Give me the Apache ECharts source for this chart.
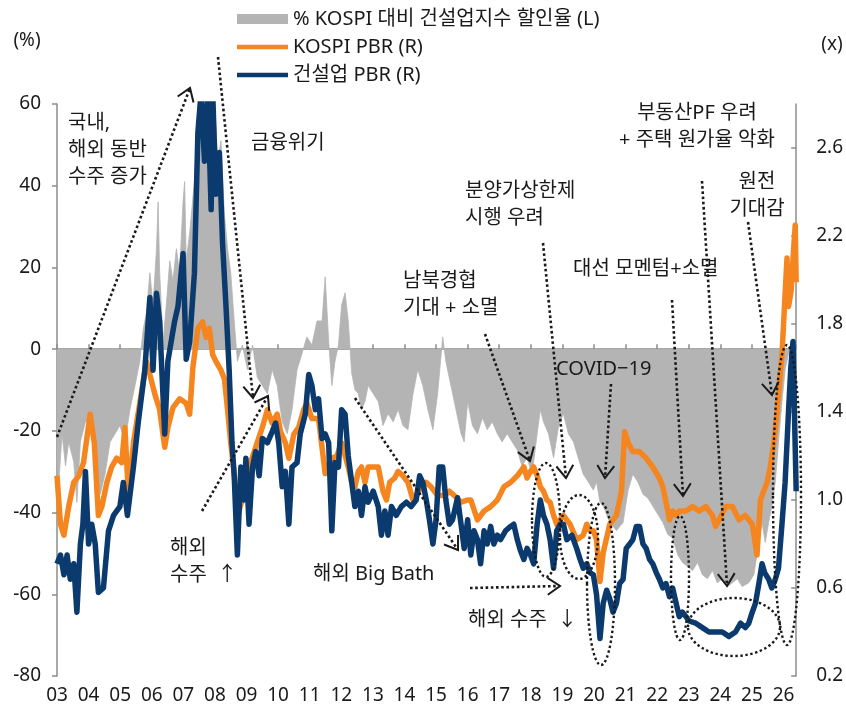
<!DOCTYPE html>
<html>
<head>
<meta charset="utf-8">
<script src="https://cdn.jsdelivr.net/npm/echarts@6/dist/echarts.min.js"></script>
<style>
  html, body { margin: 0; padding: 0; background: #fff; }
  #main { width: 846px; height: 712px; }
</style>
</head>
<body>
<div id="main"></div>
<script>
// % KOSPI 대비 건설업지수 할인율 (L)
const discountPct = [
  [2003.00, -27.6], [2003.06, -32.5], [2003.16, -20.7], [2003.27, -28.6], [2003.37, -22.7],
  [2003.53, -27.6], [2003.63, -37.5], [2003.74, -22.7], [2003.90, -17.8], [2004.05, -17.8],
  [2004.21, -27.6], [2004.37, -35.5], [2004.52, -30.6], [2004.68, -22.7], [2004.84, -20.7],
  [2004.99, -18.7], [2005.15, -22.7], [2005.31, -14.8], [2005.47, -8.9], [2005.62, -3.0],
  [2005.73, 4.9], [2005.83, 8.8], [2005.94, 18.7], [2006.04, 10.8], [2006.15, 24.6],
  [2006.20, 36.0], [2006.25, 18.7], [2006.36, 1.9], [2006.46, 10.8], [2006.57, 21.6],
  [2006.67, 16.7], [2006.78, 24.6], [2006.88, 18.7], [2006.99, 36.0], [2007.04, 41.0],
  [2007.09, 21.6], [2007.20, 28.5], [2007.35, 41.0], [2007.46, 56.0], [2007.56, 62.0],
  [2007.67, 51.0], [2007.77, 62.0], [2007.88, 46.0], [2007.98, 62.0], [2008.09, 46.0],
  [2008.19, 51.0], [2008.30, 33.0], [2008.40, 24.6], [2008.50, 18.7], [2008.61, 6.9],
  [2008.71, -3.0], [2008.87, 1.0], [2009.03, -5.0], [2009.19, 1.0], [2009.34, -6.9],
  [2009.50, -8.9], [2009.66, -10.9], [2009.81, -5.0], [2009.97, -8.9], [2010.13, -17.8],
  [2010.29, -20.7], [2010.44, -14.8], [2010.60, -5.0], [2010.76, -1.0], [2010.91, 3.0],
  [2011.07, 1.0], [2011.23, 6.9], [2011.39, 6.9], [2011.49, 17.7], [2011.60, 2.0],
  [2011.70, -8.9], [2011.80, -3.0], [2011.91, 1.0], [2012.01, 10.8], [2012.12, 13.8],
  [2012.22, 6.9], [2012.33, -5.9], [2012.43, -9.9], [2012.54, -10.9], [2012.64, -14.8],
  [2012.75, -12.8], [2012.85, -8.9], [2013.01, -10.9], [2013.17, -12.8], [2013.32, -18.7],
  [2013.48, -15.8], [2013.64, -17.8], [2013.80, -14.8], [2013.95, -18.7], [2014.11, -19.7],
  [2014.27, -10.9], [2014.42, -5.0], [2014.58, -8.9], [2014.74, -14.8], [2014.90, -19.7],
  [2015.05, -10.9], [2015.21, 3.0], [2015.31, -3.0], [2015.47, -8.9], [2015.63, -14.8],
  [2015.79, -20.7], [2015.89, -22.7], [2016.00, -12.8], [2016.15, -18.7], [2016.31, -20.7],
  [2016.47, -16.8], [2016.62, -19.7], [2016.78, -17.8], [2016.94, -20.7], [2017.09, -22.7],
  [2017.25, -20.7], [2017.41, -22.7], [2017.57, -24.7], [2017.72, -28.6], [2017.88, -26.6],
  [2018.04, -30.6], [2018.20, -20.7], [2018.30, -14.8], [2018.40, -17.8], [2018.56, -20.7],
  [2018.72, -26.6], [2018.88, -18.7], [2019.03, -15.8], [2019.19, -20.7], [2019.35, -22.7],
  [2019.50, -26.6], [2019.66, -30.6], [2019.82, -32.5], [2019.98, -34.5], [2020.08, -32.5],
  [2020.19, -37.5], [2020.29, -38.4], [2020.50, -42.4], [2020.71, -44.4], [2020.92, -42.4],
  [2021.08, -34.5], [2021.23, -30.6], [2021.39, -32.5], [2021.55, -35.5], [2021.71, -36.5],
  [2021.86, -38.4], [2022.02, -40.4], [2022.18, -42.4], [2022.33, -45.3], [2022.49, -46.3],
  [2022.65, -50.3], [2022.80, -52.2], [2022.96, -53.2], [2023.12, -54.2], [2023.28, -52.2],
  [2023.43, -55.2], [2023.59, -56.2], [2023.75, -54.2], [2023.90, -57.2], [2024.06, -56.2],
  [2024.22, -58.1], [2024.38, -57.2], [2024.54, -56.2], [2024.69, -58.1], [2024.90, -57.2],
  [2025.06, -55.2], [2025.22, -47.3], [2025.32, -42.4], [2025.42, -47.3], [2025.53, -42.4],
  [2025.63, -38.4], [2025.74, -32.5], [2025.84, -22.7], [2025.95, -12.8], [2026.05, -5.0],
  [2026.16, -1.0], [2026.24, -3.0], [2026.32, -12.8], [2026.40, -22.7]
];

// KOSPI PBR (R)
const kospiPbr = [
  [2003.00, 1.11], [2003.11, 0.89], [2003.22, 0.84], [2003.37, 0.97], [2003.53, 1.08],
  [2003.69, 1.11], [2003.84, 1.17], [2004.05, 1.39], [2004.18, 1.26], [2004.31, 0.93],
  [2004.42, 0.97], [2004.58, 1.08], [2004.73, 1.15], [2004.89, 1.19], [2005.05, 1.17],
  [2005.15, 1.33], [2005.26, 1.02], [2005.42, 1.26], [2005.62, 1.44], [2005.83, 1.63],
  [2005.94, 1.57], [2006.10, 1.48], [2006.25, 1.41], [2006.41, 1.24], [2006.51, 1.33],
  [2006.67, 1.42], [2006.88, 1.46], [2007.09, 1.44], [2007.20, 1.39], [2007.30, 1.60],
  [2007.46, 1.78], [2007.61, 1.81], [2007.72, 1.74], [2007.82, 1.78], [2007.93, 1.66],
  [2008.03, 1.63], [2008.19, 1.59], [2008.30, 1.55], [2008.40, 1.41], [2008.50, 1.26],
  [2008.61, 1.12], [2008.71, 0.92], [2008.82, 0.98], [2008.92, 1.02], [2008.98, 1.10],
  [2009.13, 1.17], [2009.29, 1.24], [2009.50, 1.33], [2009.66, 1.41], [2009.81, 1.35],
  [2009.97, 1.39], [2010.08, 1.31], [2010.23, 1.26], [2010.34, 1.19], [2010.50, 1.30],
  [2010.65, 1.33], [2010.81, 1.41], [2010.91, 1.44], [2011.07, 1.37], [2011.28, 1.37],
  [2011.49, 1.12], [2011.70, 1.19], [2011.86, 1.20], [2012.01, 1.26], [2012.22, 1.15],
  [2012.33, 1.08], [2012.43, 1.06], [2012.54, 1.13], [2012.64, 1.15], [2012.75, 1.08],
  [2012.85, 1.15], [2013.01, 1.15], [2013.17, 1.15], [2013.32, 1.04], [2013.43, 1.00],
  [2013.53, 1.08], [2013.69, 1.10], [2013.80, 1.13], [2013.95, 1.11], [2014.11, 1.08],
  [2014.27, 1.00], [2014.37, 1.02], [2014.53, 1.06], [2014.69, 1.08], [2014.84, 1.06],
  [2015.05, 1.02], [2015.26, 1.02], [2015.42, 1.04], [2015.58, 1.02], [2015.79, 0.99],
  [2016.00, 1.00], [2016.10, 1.00], [2016.31, 0.91], [2016.52, 0.95], [2016.73, 0.97],
  [2016.94, 1.00], [2017.15, 1.06], [2017.36, 1.08], [2017.57, 1.11], [2017.78, 1.15],
  [2017.88, 1.10], [2017.99, 1.13], [2018.09, 1.15], [2018.20, 1.11], [2018.30, 1.06],
  [2018.40, 1.04], [2018.51, 1.00], [2018.61, 0.99], [2018.72, 0.93], [2018.82, 0.89],
  [2019.03, 0.93], [2019.24, 0.89], [2019.45, 0.82], [2019.66, 0.84], [2019.77, 0.89],
  [2019.87, 0.86], [2019.98, 0.86], [2020.08, 0.82], [2020.19, 0.63], [2020.29, 0.76],
  [2020.50, 0.89], [2020.71, 0.93], [2020.87, 1.04], [2020.97, 1.31], [2021.08, 1.26],
  [2021.23, 1.22], [2021.44, 1.22], [2021.65, 1.19], [2021.86, 1.15], [2022.07, 1.10],
  [2022.18, 1.06], [2022.28, 0.99], [2022.39, 0.91], [2022.49, 0.95], [2022.60, 0.93],
  [2022.70, 0.95], [2022.91, 0.95], [2023.12, 0.97], [2023.33, 0.95], [2023.54, 0.97],
  [2023.75, 0.93], [2023.85, 0.88], [2023.96, 0.91], [2024.17, 0.97], [2024.38, 0.97],
  [2024.59, 0.91], [2024.79, 0.93], [2025.01, 0.89], [2025.16, 0.75], [2025.27, 1.00],
  [2025.37, 1.04], [2025.48, 1.08], [2025.58, 1.15], [2025.69, 1.26], [2025.76, 1.35],
  [2025.84, 1.48], [2025.95, 1.66], [2026.03, 1.88], [2026.11, 2.10], [2026.16, 1.88],
  [2026.24, 1.95], [2026.32, 2.14], [2026.37, 2.25], [2026.40, 1.99]
];

// 건설업 PBR (R)
const constructionPbr = [
  [2003.00, 0.71], [2003.11, 0.75], [2003.22, 0.66], [2003.32, 0.75], [2003.42, 0.64],
  [2003.53, 0.71], [2003.63, 0.49], [2003.74, 0.80], [2003.82, 0.89], [2003.90, 1.13],
  [2004.00, 0.80], [2004.10, 0.89], [2004.21, 0.80], [2004.31, 0.58], [2004.47, 0.60],
  [2004.63, 0.86], [2004.79, 0.93], [2004.99, 0.97], [2005.10, 1.08], [2005.23, 0.93],
  [2005.42, 1.15], [2005.57, 1.35], [2005.78, 1.59], [2005.94, 1.92], [2006.04, 1.59],
  [2006.15, 1.94], [2006.25, 1.81], [2006.41, 1.30], [2006.51, 1.63], [2006.72, 1.81],
  [2006.83, 1.88], [2006.99, 2.12], [2007.09, 1.64], [2007.20, 1.72], [2007.35, 2.03],
  [2007.46, 2.67], [2007.56, 2.85], [2007.67, 2.54], [2007.77, 2.85], [2007.88, 2.32],
  [2007.93, 2.85], [2008.03, 2.39], [2008.14, 2.58], [2008.24, 2.17], [2008.35, 1.88],
  [2008.45, 1.59], [2008.54, 1.26], [2008.61, 1.11], [2008.71, 0.75], [2008.82, 1.15],
  [2008.92, 1.00], [2008.98, 1.19], [2009.08, 0.89], [2009.19, 1.15], [2009.29, 1.22],
  [2009.40, 1.11], [2009.50, 1.28], [2009.66, 1.26], [2009.81, 1.31], [2009.92, 1.35],
  [2010.02, 1.26], [2010.13, 1.06], [2010.23, 1.13], [2010.34, 0.89], [2010.44, 1.15],
  [2010.60, 1.17], [2010.70, 1.30], [2010.86, 1.39], [2010.97, 1.57], [2011.07, 1.52],
  [2011.18, 1.41], [2011.28, 1.46], [2011.39, 1.28], [2011.49, 1.30], [2011.60, 1.26],
  [2011.70, 0.86], [2011.80, 1.17], [2011.91, 1.15], [2012.01, 1.41], [2012.12, 1.39],
  [2012.22, 1.20], [2012.33, 1.08], [2012.43, 0.97], [2012.54, 1.04], [2012.64, 0.93],
  [2012.75, 1.06], [2012.85, 0.99], [2013.01, 1.04], [2013.17, 0.97], [2013.27, 0.84],
  [2013.38, 0.95], [2013.48, 0.84], [2013.59, 0.97], [2013.74, 0.93], [2013.90, 0.97],
  [2014.06, 0.99], [2014.21, 0.97], [2014.37, 1.00], [2014.48, 1.11], [2014.58, 1.08],
  [2014.69, 1.00], [2014.79, 0.91], [2014.90, 0.80], [2015.00, 0.91], [2015.10, 1.15],
  [2015.21, 1.15], [2015.31, 1.00], [2015.42, 0.89], [2015.52, 0.91], [2015.68, 1.01],
  [2015.79, 0.89], [2015.89, 0.78], [2016.00, 0.91], [2016.10, 0.75], [2016.20, 0.86],
  [2016.31, 0.82], [2016.41, 0.71], [2016.52, 0.86], [2016.62, 0.80], [2016.73, 0.88],
  [2016.83, 0.80], [2016.94, 0.84], [2017.04, 0.82], [2017.20, 0.86], [2017.36, 0.88],
  [2017.46, 0.89], [2017.57, 0.82], [2017.67, 0.77], [2017.78, 0.73], [2017.88, 0.78],
  [2017.99, 0.75], [2018.09, 0.71], [2018.20, 0.89], [2018.30, 1.00], [2018.40, 0.93],
  [2018.51, 0.89], [2018.61, 0.82], [2018.72, 0.69], [2018.82, 0.86], [2018.93, 0.89],
  [2019.03, 0.89], [2019.14, 0.82], [2019.30, 0.84], [2019.45, 0.78], [2019.56, 0.73],
  [2019.66, 0.69], [2019.77, 0.71], [2019.87, 0.67], [2019.98, 0.66], [2020.08, 0.57],
  [2020.19, 0.37], [2020.29, 0.53], [2020.40, 0.59], [2020.50, 0.55], [2020.60, 0.49],
  [2020.71, 0.53], [2020.81, 0.62], [2020.92, 0.64], [2021.02, 0.78], [2021.13, 0.80],
  [2021.23, 0.82], [2021.34, 0.88], [2021.44, 0.88], [2021.55, 0.80], [2021.65, 0.78],
  [2021.76, 0.73], [2021.86, 0.71], [2021.97, 0.67], [2022.07, 0.64], [2022.18, 0.60],
  [2022.28, 0.62], [2022.39, 0.56], [2022.49, 0.60], [2022.60, 0.53], [2022.70, 0.47],
  [2022.80, 0.49], [2022.91, 0.47], [2023.01, 0.45], [2023.22, 0.44], [2023.43, 0.42],
  [2023.64, 0.40], [2023.85, 0.40], [2024.06, 0.40], [2024.27, 0.38], [2024.48, 0.40],
  [2024.64, 0.44], [2024.79, 0.42], [2024.90, 0.44], [2025.01, 0.49], [2025.11, 0.53],
  [2025.22, 0.62], [2025.32, 0.71], [2025.40, 0.67], [2025.53, 0.64], [2025.63, 0.60],
  [2025.74, 0.64], [2025.84, 0.69], [2025.95, 0.89], [2026.05, 1.08], [2026.16, 1.41],
  [2026.23, 1.60], [2026.30, 1.72], [2026.36, 1.30], [2026.40, 1.04]
];

const legendNames = ['% KOSPI 대비 건설업지수 할인율 (L)', 'KOSPI PBR (R)', '건설업 PBR (R)'];

// annotation layout (pixels)
const notes = [
  { x: 68, y: 150, text: '국내,\n해외 동반\n수주 증가', align: 'left' },
  { x: 251, y: 143, text: '금융위기', align: 'left' },
  { x: 170, y: 562, text: '해외\n수주  ↑', align: 'left' },
  { x: 313, y: 574, text: '해외 Big Bath', align: 'left' },
  { x: 403, y: 295, text: '남북경협\n기대 + 소멸', align: 'left' },
  { x: 465, y: 205, text: '분양가상한제\n시행 우려', align: 'left' },
  { x: 556, y: 369, text: 'COVID−19', align: 'left' },
  { x: 573, y: 269, text: '대선 모멘텀+소멸', align: 'left' },
  { x: 468, y: 620, text: '해외 수주  ↓', align: 'left' },
  { x: 697, y: 127, text: '부동산PF 우려\n+ 주택 원가율 악화', align: 'center' },
  { x: 757, y: 196, text: '원전\n기대감', align: 'center' }
];
const arrows = [
  [57, 437, 190, 88], [218, 57, 253, 398], [202, 511, 268, 396], [355, 398, 458, 550],
  [485, 334, 530, 461], [543, 243, 566, 478], [611, 384, 605, 478], [672, 300, 683, 496],
  [702, 181, 727, 586], [748, 222, 772, 395], [470, 588, 560, 586]
];
const ovals = [
  [546, 520, 14, 57], [579, 537, 19, 42], [601, 584, 14, 81], [680, 578, 9, 62],
  [734, 627, 46, 29], [787, 495, 14, 150]
];

const chart = echarts.init(document.getElementById('main'));
const font = '"Noto Sans", "Noto Sans CJK KR", sans-serif';
const ink = '#1a1a1a';
const axisGray = '#8c8c8c';
const lineIcon = 'path://M0,0H51V4.5H0Z';

const graphics = [];
notes.forEach(n => {
  graphics.push({
    type: 'text', z: 100,
    style: { text: n.text, x: n.x, y: n.y, fill: ink, font: '20px ' + font,
      align: n.align, verticalAlign: 'middle', lineHeight: 27 }
  });
});
arrows.forEach(a => {
  const [x1, y1, x2, y2] = a;
  graphics.push({
    type: 'polyline', z: 100,
    shape: { points: [[x1, y1], [x2, y2]] },
    style: { stroke: ink, lineWidth: 2.6, lineDash: [2.6, 2.6], fill: null }
  });
  const ang = Math.atan2(y2 - y1, x2 - x1);
  const len = 15;
  const w1 = [x2 - len * Math.cos(ang - 0.6), y2 - len * Math.sin(ang - 0.6)];
  const w2 = [x2 - len * Math.cos(ang + 0.6), y2 - len * Math.sin(ang + 0.6)];
  graphics.push({
    type: 'polyline', z: 100,
    shape: { points: [w1, [x2, y2], w2] },
    style: { stroke: ink, lineWidth: 2, fill: null }
  });
});
ovals.forEach(o => {
  graphics.push({
    type: 'ellipse', z: 100,
    shape: { cx: o[0], cy: o[1], rx: o[2], ry: o[3] },
    style: { stroke: ink, lineWidth: 2.4, lineDash: [2.4, 2.6], fill: null }
  });
});
graphics.push(
  { type: 'text', z: 100, style: { text: '(%)', x: 27, y: 41, fill: ink, font: '19px ' + font, align: 'center', verticalAlign: 'middle' } },
  { type: 'text', z: 100, style: { text: '(x)', x: 832, y: 45, fill: ink, font: '19px ' + font, align: 'center', verticalAlign: 'middle' } }
);

const xCommon = { type: 'value', min: 2003, max: 2026.4, interval: 1, splitLine: { show: false } };

chart.setOption({
  backgroundColor: '#fff',
  animation: false,
  textStyle: { fontFamily: font },
  grid: { left: 57, right: 45, top: 104, bottom: 36 },
  legend: {
    orient: 'vertical', left: 232, top: 3, itemWidth: 51, itemHeight: 10, itemGap: 6,
    textStyle: { fontSize: 20, color: ink, lineHeight: 22 },
    data: [
      { name: legendNames[0], icon: 'rect' },
      { name: legendNames[1], icon: lineIcon },
      { name: legendNames[2], icon: lineIcon }
    ]
  },
  xAxis: [
    Object.assign({}, xCommon, {
      position: 'bottom',
      axisLine: { show: false }, axisTick: { show: false },
      axisLabel: { fontSize: 19, color: ink, margin: 10, showMaxLabel: false,
        formatter: v => String(v).slice(2) }
    }),
    Object.assign({}, xCommon, {
      position: 'bottom',
      axisLine: { show: true, onZero: true, onZeroAxisIndex: 0, lineStyle: { color: axisGray, width: 1.5 } },
      axisTick: { show: true, inside: true, length: 5, lineStyle: { color: axisGray, width: 1.5 } },
      axisLabel: { show: false }
    })
  ],
  yAxis: [
    {
      type: 'value', min: -80, max: 60, interval: 20, position: 'left',
      axisLine: { show: true, lineStyle: { color: axisGray, width: 1.5 } },
      axisTick: { show: true, length: 5, lineStyle: { color: axisGray, width: 1.5 } },
      axisLabel: { fontSize: 19, color: ink, margin: 16 },
      splitLine: { show: false }
    },
    {
      type: 'value', min: 0.2, max: 2.8, interval: 0.4, position: 'right',
      axisLine: { show: true, lineStyle: { color: axisGray, width: 1.5 } },
      axisTick: { show: true, inside: true, length: 5, lineStyle: { color: axisGray, width: 1.5 } },
      axisLabel: { fontSize: 19, color: ink, margin: 20, showMaxLabel: false,
        formatter: v => v.toFixed(1) },
      splitLine: { show: false }
    }
  ],
  series: [
    {
      name: legendNames[0], type: 'line', xAxisIndex: 0, yAxisIndex: 0,
      data: discountPct, symbol: 'none', z: 1,
      lineStyle: { width: 0.8, color: '#b4b4b4' },
      itemStyle: { color: '#b4b4b4' },
      areaStyle: { color: '#b4b4b4', opacity: 1 }
    },
    {
      name: legendNames[1], type: 'line', xAxisIndex: 0, yAxisIndex: 1,
      data: kospiPbr, symbol: 'none', z: 2,
      lineStyle: { width: 5.5, color: '#f5861f', join: 'round' },
      itemStyle: { color: '#f5861f' }
    },
    {
      name: legendNames[2], type: 'line', xAxisIndex: 0, yAxisIndex: 1,
      data: constructionPbr, symbol: 'none', z: 3,
      lineStyle: { width: 5.5, color: '#0b3a6e', join: 'round' },
      itemStyle: { color: '#0b3a6e' }
    }
  ],
  graphic: graphics
});
</script>
</body>
</html>
